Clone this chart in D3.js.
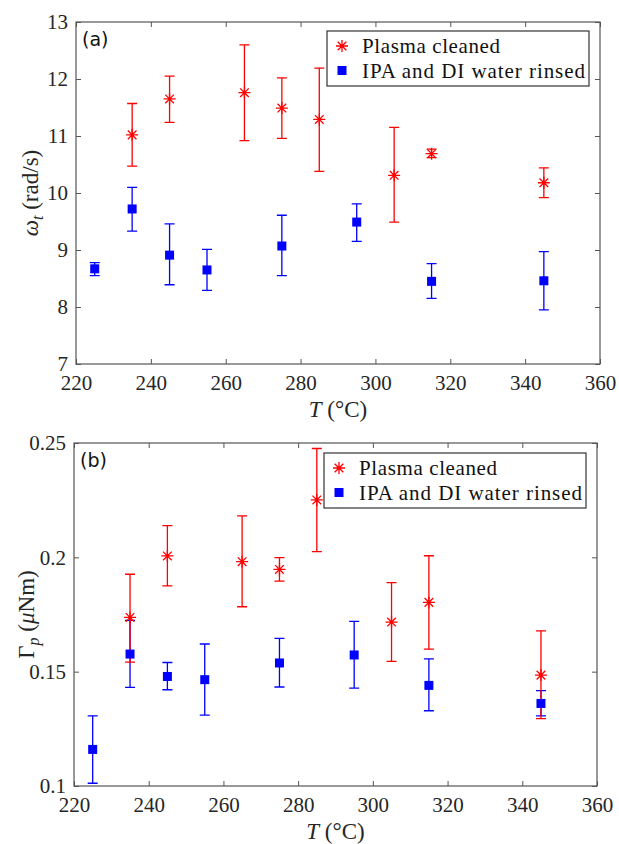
<!DOCTYPE html>
<html>
<head>
<meta charset="utf-8">
<script src="https://cdn.jsdelivr.net/npm/d3@7"></script>
</head>
<body style="margin:0">
<script>
// temperatures (°C)
const plasmaT = [235, 245, 265, 275, 285, 305, 315, 345];
const rinsedT = [225, 235, 245, 255, 275, 295, 315, 345];

// panel (a): omega_t (rad/s)
const omegaPlasma = [11.02, 11.65, 11.76, 11.49, 11.29, 10.31, 10.69, 10.18];
const omegaPlasmaLo = [10.47, 11.24, 10.92, 10.96, 10.38, 9.49, 10.62, 9.92];
const omegaPlasmaHi = [11.57, 12.05, 12.60, 12.02, 12.19, 11.15, 10.77, 10.44];
const omegaRinsed = [8.67, 9.72, 8.91, 8.65, 9.07, 9.49, 8.45, 8.46];
const omegaRinsedLo = [8.55, 9.33, 8.39, 8.29, 8.55, 9.15, 8.15, 7.95];
const omegaRinsedHi = [8.78, 10.10, 9.46, 9.01, 9.61, 9.81, 8.76, 8.97];

// panel (b): Gamma_p (uNm)
const gammaPlasma = [0.1737, 0.2006, 0.1981, 0.1947, 0.2251, 0.1717, 0.1803, 0.1485];
const gammaPlasmaLo = [0.1542, 0.1875, 0.1784, 0.1896, 0.2025, 0.1545, 0.1599, 0.1295];
const gammaPlasmaHi = [0.1926, 0.2139, 0.2181, 0.1999, 0.2476, 0.1889, 0.2007, 0.1678];
const gammaRinsed = [0.1160, 0.1577, 0.1479, 0.1465, 0.1538, 0.1573, 0.1440, 0.1361];
const gammaRinsedLo = [0.1012, 0.1431, 0.1421, 0.1310, 0.1433, 0.1428, 0.1329, 0.1307];
const gammaRinsedHi = [0.1307, 0.1724, 0.1540, 0.1621, 0.1646, 0.1720, 0.1556, 0.1417];

const xTicks = [220, 240, 260, 280, 300, 320, 340, 360];
const omegaTicks = [7, 8, 9, 10, 11, 12, 13];
const gammaTicks = [0.1, 0.15, 0.2, 0.25];

const legendLabels = ["Plasma cleaned", "IPA and DI water rinsed"];

const red = "#ff0000";
const blue = "#0000ff";
const axisColor = "#555";
const serif = "Liberation Serif";

const svg = d3.select("body").append("svg")
    .attr("width", 619)
    .attr("height", 844)
    .style("display", "block")
    .style("font-family", serif);

function asterisk(g, x, y, r) {
    const d = r * 0.72;
    const p = `M${x - r},${y}H${x + r}M${x},${y - r}V${y + r}` +
        `M${x - d},${y - d}L${x + d},${y + d}M${x - d},${y + d}L${x + d},${y - d}`;
    g.append("path").attr("d", p).attr("stroke", red).attr("stroke-width", 1.3).attr("fill", "none");
}

function drawPanel(cfg) {
    const { left, right, top, bottom } = cfg;
    const x = d3.scaleLinear().domain([220, 360]).range([left, right]);
    const y = d3.scaleLinear().domain(cfg.yDomain).range([bottom, top]);
    const g = svg.append("g");

    // axes with inward ticks on all four sides
    const ax = g.append("g").attr("transform", `translate(0,${bottom})`)
        .call(d3.axisBottom(x).tickValues(xTicks).tickSizeInner(-5).tickSizeOuter(0).tickPadding(10).tickFormat(d3.format("d")));
    ax.selectAll("text").attr("dy", "0.75em");
    g.append("g").attr("transform", `translate(0,${top})`)
        .call(d3.axisTop(x).tickValues(xTicks).tickSizeInner(-5).tickSizeOuter(0).tickFormat(""));
    g.append("g").attr("transform", `translate(${left},0)`)
        .call(d3.axisLeft(y).tickValues(cfg.yTicks).tickSizeInner(-5).tickSizeOuter(0).tickPadding(8).tickFormat(cfg.yFormat));
    g.append("g").attr("transform", `translate(${right},0)`)
        .call(d3.axisRight(y).tickValues(cfg.yTicks).tickSizeInner(-5).tickSizeOuter(0).tickFormat(""));
    g.selectAll(".domain").remove();
    g.selectAll("g[font-family]").attr("font-family", null).attr("font-size", null);
    g.selectAll(".tick line").attr("stroke", axisColor);
    g.selectAll(".tick text")
        .style("font-family", serif).style("font-size", "21px").attr("fill", "#262626");
    g.append("rect").attr("x", left).attr("y", top)
        .attr("width", right - left).attr("height", bottom - top)
        .attr("fill", "none").attr("stroke", axisColor).attr("stroke-width", 1.2);

    // error bars
    const cap = 5;
    function errorBars(ts, lo, hi, color) {
        ts.forEach((t, i) => {
            const cx = x(t);
            const y1 = y(lo[i]), y2 = y(hi[i]);
            g.append("path")
                .attr("d", `M${cx},${y1}V${y2}M${cx - cap},${y1}H${cx + cap}M${cx - cap},${y2}H${cx + cap}`)
                .attr("stroke", color).attr("stroke-width", 1.3).attr("fill", "none");
        });
    }
    errorBars(rinsedT, cfg.rinsedLo, cfg.rinsedHi, blue);
    errorBars(plasmaT, cfg.plasmaLo, cfg.plasmaHi, red);

    rinsedT.forEach((t, i) => {
        g.append("rect").attr("x", x(t) - 4.5).attr("y", y(cfg.rinsed[i]) - 4.5)
            .attr("width", 9).attr("height", 9).attr("fill", blue);
    });
    plasmaT.forEach((t, i) => asterisk(g, x(t), y(cfg.plasma[i]), 6));

    // panel tag
    g.append("text").attr("x", left + 6).attr("y", top + 24)
        .style("font-family", "DejaVu Sans").style("font-size", "19px")
        .attr("fill", "#111").text(cfg.tag);

    // legend
    const lg = g.append("g");
    lg.append("rect").attr("x", cfg.legX).attr("y", cfg.legY)
        .attr("width", 262).attr("height", 55)
        .attr("fill", "#fff").attr("stroke", "#333").attr("stroke-width", 1.2);
    asterisk(lg, cfg.legX + 15, cfg.legY + 15, 6);
    lg.append("rect").attr("x", cfg.legX + 10.5).attr("y", cfg.legY + 35)
        .attr("width", 9).attr("height", 9).attr("fill", blue);
    const widths = [138, 223];
    legendLabels.forEach((s, i) => {
        lg.append("text")
            .attr("x", cfg.legX + 35).attr("y", cfg.legY + 22 + i * 25)
            .style("font-family", serif).style("font-size", "21px")
            .attr("textLength", widths[i]).attr("lengthAdjust", "spacing")
            .attr("fill", "#111").text(s);
    });

    // x label
    const xl = g.append("text")
        .attr("x", (left + right) / 2).attr("y", bottom + 53)
        .attr("text-anchor", "middle")
        .style("font-family", serif).style("font-size", "23px").attr("fill", "#262626");
    xl.append("tspan").style("font-style", "italic").text("T");
    xl.append("tspan").text(" (°C)");

    // y label
    const yl = g.append("text")
        .attr("transform", `translate(${cfg.yLabelX},${(top + bottom) / 2}) rotate(-90)`)
        .attr("text-anchor", "middle")
        .style("font-family", serif).style("font-size", "23px").attr("fill", "#262626");
    yl.append("tspan").style("font-style", cfg.symItalic ? "italic" : "normal").text(cfg.sym);
    yl.append("tspan").style("font-style", "italic").style("font-size", "16px").attr("dy", 5).text(cfg.sub);
    yl.append("tspan").attr("dy", -5).text(" (");
    cfg.unit.forEach(u => yl.append("tspan").style("font-style", u[1] ? "italic" : "normal").text(u[0]));
    yl.append("tspan").text(")");
}

drawPanel({
    left: 76, right: 600, top: 22, bottom: 364,
    yDomain: [7, 13], yTicks: omegaTicks, yFormat: d3.format("d"),
    plasma: omegaPlasma, plasmaLo: omegaPlasmaLo, plasmaHi: omegaPlasmaHi,
    rinsed: omegaRinsed, rinsedLo: omegaRinsedLo, rinsedHi: omegaRinsedHi,
    tag: "(a)", legX: 327, legY: 31, yLabelX: 38,
    sym: "ω", symItalic: true, sub: "t", unit: [["rad/s", false]]
});

drawPanel({
    left: 74, right: 597, top: 443, bottom: 786,
    yDomain: [0.1, 0.25], yTicks: gammaTicks, yFormat: d => String(d),
    plasma: gammaPlasma, plasmaLo: gammaPlasmaLo, plasmaHi: gammaPlasmaHi,
    rinsed: gammaRinsed, rinsedLo: gammaRinsedLo, rinsedHi: gammaRinsedHi,
    tag: "(b)", legX: 324, legY: 453, yLabelX: 34,
    sym: "Γ", symItalic: false, sub: "p", unit: [["μ", true], ["Nm", false]]
});
</script>
</body>
</html>
